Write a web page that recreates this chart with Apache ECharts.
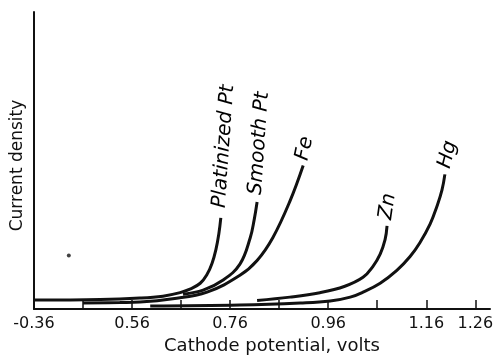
<!DOCTYPE html>
<html>
<head>
<meta charset="utf-8">
<script src="https://cdn.jsdelivr.net/npm/echarts@6/dist/echarts.min.js"></script>
<style>html,body{margin:0;padding:0;background:#fff}#c{width:500px;height:360px}</style>
</head>
<body>
<div id="c"></div>
<script>
// ---- data ----
const xTickValues = [0.36, 0.46, 0.56, 0.66, 0.76, 0.86, 0.96, 1.06, 1.16, 1.26];
const xLabelValues = [0.36, 0.56, 0.76, 0.96, 1.16, 1.26];
const xLabelTexts = ['-0.36', '0.56', '0.76', '0.96', '1.16', '1.26'];
const curveNames = ['Platinized Pt', 'Smooth Pt', 'Fe', 'Zn', 'Hg'];
const platinizedPt = [[0.360,3.0],[0.495,3.17],[0.576,3.67],[0.623,4.33],[0.658,5.5],[0.678,6.67],[0.699,8.67],[0.713,11.67],[0.723,15.33],[0.731,20],[0.737,25.33],[0.741,30.67]];
const smoothPt = [[0.664,5.0],[0.705,6.33],[0.745,9.67],[0.780,15.1],[0.801,24],[0.809,30],[0.815,36]];
const fe = [[0.460,2.0],[0.535,2.17],[0.576,2.33],[0.643,3.43],[0.713,5.67],[0.780,11.33],[0.815,16.33],[0.847,24],[0.882,36.33],[0.909,48.33]];
const zn = [[0.815,2.9],[0.882,4.0],[0.943,5.5],[0.994,7.67],[1.031,10.67],[1.051,14.3],[1.066,18.5],[1.076,23.33],[1.080,28]];
const hg = [[0.597,1.0],[0.780,1.33],[0.903,2.0],[0.964,2.67],[1.005,4.0],[1.031,5.67],[1.066,8.67],[1.100,13],[1.127,17.67],[1.147,22.33],[1.168,28.67],[1.182,34.67],[1.192,40],[1.198,45.33]];
const strayDot = [[0.431, 18]];

// ---- chart ----
const curves = [platinizedPt, smoothPt, fe, zn, hg];
const labelGap = [10, 7, 5, 6, 6];
const labelRot = [86, 86, 78, 82, 76];
const ink = '#111';
const font = '"DejaVu Sans", sans-serif';

const series = curves.map((d, i) => ({
  type: 'line', name: curveNames[i], data: d, smooth: 0.4,
  showSymbol: false, silent: true,
  lineStyle: { color: ink, width: 3 }
}));
series.push({
  type: 'scatter', data: strayDot, symbolSize: 4, silent: true,
  itemStyle: { color: ink }
});
series.push({
  type: 'scatter', silent: true, symbolSize: 1,
  itemStyle: { color: 'rgba(0,0,0,0)' },
  data: curves.map((d, i) => ({
    value: d[d.length - 1],
    label: {
      show: true, formatter: curveNames[i], position: 'inside',
      rotate: labelRot[i], align: 'left', verticalAlign: 'middle',
      offset: [labelGap[i], -2], opacity: 1,
      fontFamily: font, fontStyle: 'italic', fontSize: 20, color: '#000'
    }
  }))
});

const chart = echarts.init(document.getElementById('c'), null, { renderer: 'canvas' });
chart.setOption({
  animation: false,
  backgroundColor: '#fff',
  grid: { left: 34, right: 10, top: 12, bottom: 48 },
  xAxis: {
    type: 'value', min: 0.36, max: 1.29,
    name: 'Cathode potential, volts', nameLocation: 'middle', nameGap: 28,
    nameTextStyle: { fontFamily: font, fontSize: 18, color: ink, padding: [0, 0, 0, 20] },
    axisLine: { show: true, lineStyle: { color: ink, width: 2 } },
    axisTick: { show: true, inside: true, length: 9, customValues: xTickValues, lineStyle: { color: ink, width: 1.5 } },
    axisLabel: {
      show: true, customValues: xLabelValues, margin: 7,
      fontFamily: font, fontSize: 16, color: ink,
      formatter: v => { const k = xLabelValues.findIndex(t => Math.abs(t - v) < 1e-6); return k >= 0 ? xLabelTexts[k] : ''; }
    },
    splitLine: { show: false }
  },
  yAxis: {
    type: 'value', min: 0, max: 100,
    name: 'Current density', nameLocation: 'middle', nameGap: 8,
    nameTextStyle: { fontFamily: font, fontSize: 17, color: ink, padding: [0, 10, 0, 0] },
    axisLine: { show: true, lineStyle: { color: ink, width: 2 } },
    axisTick: { show: false }, axisLabel: { show: false }, splitLine: { show: false }
  },
  series: series
});
</script>
</body>
</html>
